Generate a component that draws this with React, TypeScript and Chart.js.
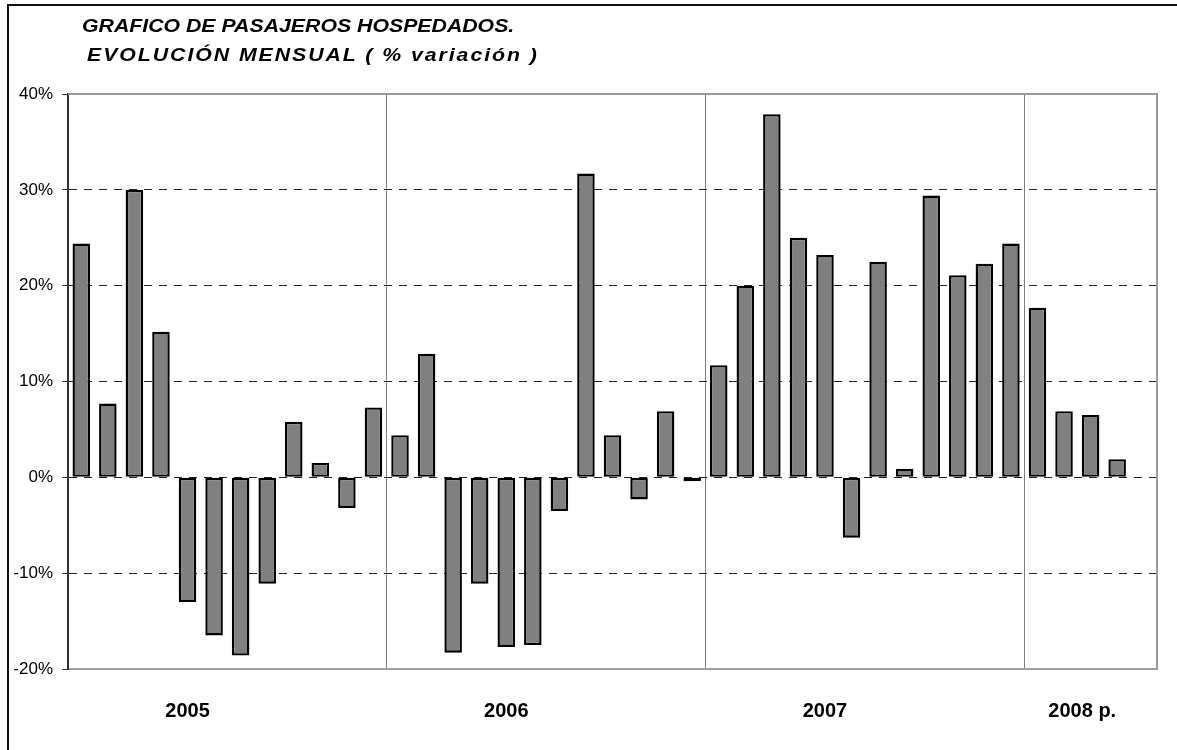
import React, { useEffect, useRef } from "react";
import { Chart, registerables } from "chart.js";

Chart.register(...registerables);

const titleLine1 = "GRAFICO DE PASAJEROS HOSPEDADOS.";
const titleLine2 = "EVOLUCIÓN MENSUAL ( % variación )";

const values2005 = [24.4, 7.7, 30.0, 15.2, -13.0, -16.5, -18.6, -11.1, 5.8, 1.5, -3.2, 7.3];
const values2006 = [4.4, 12.9, -18.3, -11.1, -17.7, -17.5, -3.5, 31.7, 4.4, -2.3, 6.9, -0.4];
const values2007 = [11.7, 20.0, 37.9, 25.0, 23.2, -6.3, 22.5, 0.9, 29.4, 21.1, 22.3, 24.4];
const values2008 = [17.7, 6.9, 6.5, 1.9, null];

const years = ["2005", "2006", "2007", "2008"];
const monthsPerYear = [12, 12, 12, 5];
// year label shown under the month at this index
const yearLabelIndex = [4, 16, 28, 38];
const yearLabelText = ["2005", "2006", "2007", "2008 p.   "];
// category boundaries where a separator line is drawn
const yearSeparators = [12, 24, 36];

const yTickMin = -20;
const yTickMax = 40;
const yTickStep = 10;

const categories: string[] = [];
years.forEach((y, i) => {
  for (let m = 1; m <= monthsPerYear[i]; m++) categories.push(`${y}-${m}`);
});
const values = [...values2005, ...values2006, ...values2007, ...values2008];

const FONT = "'Liberation Sans', Arial, sans-serif";

const framePlugin = {
  id: "frame",
  afterDraw(chart: any) {
    const { ctx, chartArea } = chart;
    ctx.save();
    ctx.strokeStyle = "#9a9a9a";
    ctx.lineWidth = 2;
    ctx.beginPath();
    ctx.moveTo(chartArea.left, chartArea.top);
    ctx.lineTo(chartArea.right, chartArea.top);
    ctx.lineTo(chartArea.right, chartArea.bottom);
    ctx.stroke();
    ctx.restore();
  },
};

export default function App() {
  const ref = useRef<HTMLCanvasElement | null>(null);

  useEffect(() => {
    if (!ref.current) return;
    const chart = new Chart(ref.current, {
      type: "bar",
      data: {
        labels: categories,
        datasets: [
          {
            data: values,
            backgroundColor: "#808080",
            borderColor: "#000000",
            borderWidth: 2.4,
            borderSkipped: false,
            barPercentage: 0.66,
            categoryPercentage: 1.0,
          },
        ],
      },
      options: {
        responsive: false,
        animation: false,
        devicePixelRatio: 1,
        layout: { padding: { top: 94, right: 20, left: 0, bottom: 0 } },
        plugins: {
          legend: { display: false },
          tooltip: { enabled: false },
          title: { display: false },
        },
        scales: {
          x: {
            afterFit: (scale: any) => {
              scale.height = 81;
            },
            grid: {
              offset: true,
              drawTicks: false,
              lineWidth: 1,
              color: (ctx: any) =>
                yearSeparators.includes(ctx.index) ? "#808080" : "rgba(0,0,0,0)",
            },
            border: { display: true, color: "#a0a0a0", width: 2 },
            ticks: {
              autoSkip: false,
              maxRotation: 0,
              minRotation: 0,
              padding: 30,
              color: "#000",
              font: { family: FONT, size: 20, weight: "bold" },
              callback: (_v: any, i: number) => {
                const k = yearLabelIndex.indexOf(i);
                return k >= 0 ? yearLabelText[k] : "";
              },
            },
          },
          y: {
            min: yTickMin,
            max: yTickMax,
            afterFit: (scale: any) => {
              scale.width = 68;
            },
            grid: {
              drawTicks: true,
              tickLength: 6,
              tickColor: "#333",
              tickWidth: 1,
              lineWidth: 1,
              color: (ctx: any) => {
                const v = ctx.tick ? ctx.tick.value : 0;
                return v > yTickMin && v < yTickMax ? "#222" : "rgba(0,0,0,0)";
              },
              tickBorderDash: [],
            },
            border: { display: true, color: "#333", width: 2, dash: [8, 7] },
            ticks: {
              stepSize: yTickStep,
              padding: 9,
              color: "#000",
              font: { family: FONT, size: 17 },
              callback: (v: any) => `${v}%`,
            },
          },
        },
      },
      plugins: [framePlugin],
    } as any);
    return () => chart.destroy();
  }, []);

  const titleStyle: React.CSSProperties = {
    position: "absolute",
    fontFamily: FONT,
    fontWeight: "bold",
    fontStyle: "italic",
    fontSize: "18.5px",
    lineHeight: "18.5px",
    whiteSpace: "pre",
    transformOrigin: "left top",
    color: "#000",
  };

  return (
    <div
      style={{
        position: "absolute",
        left: 0,
        top: 0,
        width: 1177,
        height: 750,
        overflow: "hidden",
        background: "#fff",
      }}
    >
      <canvas
        ref={ref}
        width={1177}
        height={750}
        style={{ position: "absolute", left: 0, top: 0, width: 1177, height: 750 }}
      />
      <div style={{ ...titleStyle, left: 82, top: 17, transform: "scaleX(1.15)" }}>{titleLine1}</div>
      <div
        style={{ ...titleStyle, left: 87, top: 46, transform: "scaleX(1.15)", letterSpacing: "1.7px" }}
      >
        {titleLine2}
      </div>
      <div
        style={{
          position: "absolute",
          left: 7,
          top: 4,
          width: 1180,
          height: 760,
          borderTop: "2px solid #111",
          borderLeft: "2px solid #111",
          pointerEvents: "none",
        }}
      />
    </div>
  );
}
